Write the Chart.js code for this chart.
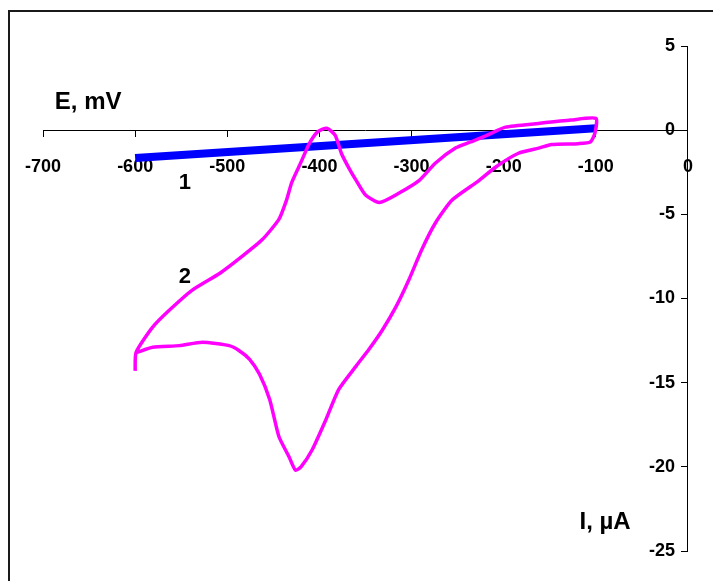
<!DOCTYPE html>
<html>
<head>
<meta charset="utf-8">
<script src="https://cdn.jsdelivr.net/npm/chart.js@4.4.0/dist/chart.umd.min.js"></script>
<style>
    html, body { margin: 0; padding: 0; background: #fff; }
    #wrap { position: relative; width: 713px; height: 581px; overflow: hidden; }
    #frame { position: absolute; left: 8px; top: 10px; width: 760px; height: 640px; border: 2px solid #1a1a1a; box-sizing: border-box; }
    #cv { position: absolute; left: 0; top: 0; }
</style>
</head>
<body>
<div id="wrap">
    <div id="frame"></div>
    <canvas id="cv" width="713" height="581"></canvas>
</div>
<script>
// Cyclic voltammograms - E (mV) vs I (uA)

// curve 1: background (straight line)
const line1E = [-600, -100];
const line1I = [-1.65, 0.12];

// curve 2: voltammogram, traced from the tail at -600 round the loop
const curve2E = [-600, -599, -581, -563, -538, -508, -484, -462, -444, -436, -430, -420, -411, -402, -392,
    -383, -376, -368, -360, -350, -335, -314, -292, -274, -252, -236, -220, -198, -162, -127, -100,
    -101, -106, -119, -148, -162, -184, -209, -227, -256, -274, -289, -303, -317, -332, -346,
    -360, -379, -393, -408, -420, -426, -433, -444, -454, -465, -476, -487, -498, -527, -552, -581, -598];
const curve2I = [-14.3, -13.2, -11.7, -10.7, -9.5, -8.5, -7.5, -6.5, -5.3, -4.2, -3.1, -1.9, -0.8, -0.1, 0.12,
    -0.3, -1.4, -2.25, -3.0, -3.85, -4.3, -3.75, -3.0, -1.95, -1.05, -0.7, -0.35, 0.18, 0.4, 0.6, 0.7,
    -0.18, -0.7, -0.8, -0.85, -1.07, -1.37, -2.2, -3.0, -4.15, -5.5, -7.1, -8.9, -10.5, -11.9, -13.0,
    -14.0, -15.4, -17.2, -19.0, -20.0, -20.2, -19.4, -18.2, -16.0, -14.5, -13.6, -13.1, -12.8, -12.6, -12.8, -12.9, -13.2];

// text placed in data coordinates
const curveNames = ['1', '2'];
const curveNameE = [-546, -546];
const curveNameI = [-3.15, -8.7];
const axisNames = ['E, mV', 'I, \u00b5A'];
const axisNameE = [-651, -90];
const axisNameI = [1.66, -23.3];

const FONT = "'Liberation Sans', Arial, sans-serif";

function toPoints(xs, ys) {
    return xs.map((x, i) => ({ x: x, y: ys[i] }));
}

const textPlugin = {
    id: 'chartText',
    afterDatasetsDraw(chart) {
        const ctx = chart.ctx;
        const xs = chart.scales.x;
        const ys = chart.scales.y;
        ctx.save();
        ctx.fillStyle = '#000';

        // y tick labels sit left of the crossing axis
        ctx.font = 'bold 18px ' + FONT;
        ctx.textAlign = 'right';
        ctx.textBaseline = 'middle';
        const axisX = xs.getPixelForValue(0);
        ys.ticks.forEach(t => {
            ctx.fillText(String(t.value), axisX - 13, ys.getPixelForValue(t.value));
        });

        ctx.textAlign = 'center';
        ctx.font = 'bold 22px ' + FONT;
        curveNames.forEach((t, i) => {
            ctx.fillText(t, xs.getPixelForValue(curveNameE[i]), ys.getPixelForValue(curveNameI[i]));
        });
        ctx.font = 'bold 24px ' + FONT;
        axisNames.forEach((t, i) => {
            ctx.fillText(t, xs.getPixelForValue(axisNameE[i]), ys.getPixelForValue(axisNameI[i]));
        });
        ctx.restore();
    }
};

document.addEventListener('DOMContentLoaded', () => {
    const ctx = document.getElementById('cv').getContext('2d');

    new Chart(ctx, {
        type: 'scatter',
        data: {
            datasets: [{
                label: '2',
                data: toPoints(curve2E, curve2I),
                showLine: true,
                borderColor: '#ff00ff',
                borderWidth: 3.5,
                pointRadius: 0,
                tension: 0.2
            }, {
                label: '1',
                data: toPoints(line1E, line1I),
                showLine: true,
                borderColor: '#0000ff',
                borderWidth: 8,
                pointRadius: 0
            }]
        },
        options: {
            responsive: false,
            animation: false,
            layout: {
                padding: { left: 43, top: 46, right: 23, bottom: 30 }
            },
            plugins: {
                legend: { display: false },
                tooltip: { enabled: false }
            },
            scales: {
                x: {
                    type: 'linear',
                    position: { y: 0 },
                    min: -700,
                    max: 0,
                    grid: { drawOnChartArea: false, color: '#000', tickLength: 6 },
                    border: { color: '#000', width: 1 },
                    ticks: {
                        stepSize: 100,
                        autoSkip: false,
                        maxRotation: 0,
                        padding: 20,
                        color: '#000',
                        font: { family: FONT, size: 18, weight: 'bold' }
                    }
                },
                y: {
                    type: 'linear',
                    position: { x: 0 },
                    min: -25,
                    max: 5,
                    grid: { drawOnChartArea: false, color: '#000', tickLength: 6 },
                    border: { color: '#000', width: 1 },
                    ticks: {
                        stepSize: 5,
                        autoSkip: false,
                        display: false
                    }
                }
            }
        },
        plugins: [textPlugin]
    });
});
</script>
</body>
</html>
